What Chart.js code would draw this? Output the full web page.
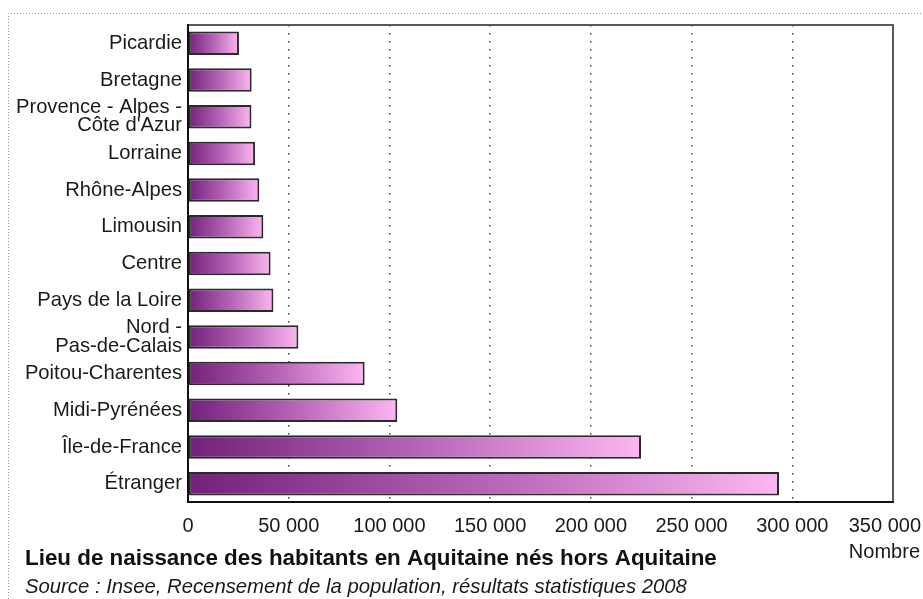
<!DOCTYPE html>
<html>
<head>
<meta charset="utf-8">
<script src="https://cdn.jsdelivr.net/npm/chart.js@4/dist/chart.umd.min.js"></script>
<style>
  html, body { margin: 0; padding: 0; background: #fff; }
  #wrap { width: 923px; height: 599px; }
</style>
</head>
<body>
<div id="wrap"><canvas id="Chart" width="923" height="599"></canvas></div>
<script>
// data
const regions = [
    "Picardie", "Bretagne", ["Provence - Alpes -", "Côte d'Azur"], "Lorraine",
    "Rhône-Alpes", "Limousin", "Centre", "Pays de la Loire", ["Nord -", "Pas-de-Calais"],
    "Poitou-Charentes", "Midi-Pyrénées", "Île-de-France", "Étranger"
];
const nombre = [25300, 31600, 31500, 33300, 35400, 37400, 41000, 42400, 54800, 87700, 103900, 224900, 293400];
const xTicks = ["0", "50 000", "100 000", "150 000", "200 000", "250 000", "300 000", "350 000"];
const titre = "Lieu de naissance des habitants en Aquitaine nés hors Aquitaine";
const source = "Source : Insee, Recensement de la population, résultats statistiques 2008";
const unite = "Nombre";

const FONT = "'Liberation Sans', Arial, sans-serif";

function barGradient(context)
{
    const chart = context.chart;
    const x = chart.scales.x;
    if (!x || context.dataIndex === undefined) return "#b060b0";
    const x0 = x.getPixelForValue(0);
    const x1 = x.getPixelForValue(context.raw);
    if (!isFinite(x0) || !isFinite(x1) || x1 - x0 < 1) return "#b060b0";
    const g = chart.ctx.createLinearGradient(x0, 0, x1, 0);
    g.addColorStop(0, "#72217a");
    g.addColorStop(0.5, "#b563b6");
    g.addColorStop(1, "#fcb6f0");
    return g;
}

function noPad(axis)
{
    axis.paddingLeft = 0;
    axis.paddingRight = 0;
    axis.paddingTop = 0;
    axis.paddingBottom = 0;
}

const decor = {
    id: "decor",
    beforeDraw(chart) {
        const ctx = chart.ctx;
        ctx.save();
        ctx.strokeStyle = "#9a9a9a";
        ctx.lineWidth = 1;
        ctx.setLineDash([1, 2]);
        ctx.beginPath();
        ctx.moveTo(8.5, 599);
        ctx.lineTo(8.5, 13.5);
        ctx.lineTo(923, 13.5);
        ctx.stroke();
        ctx.restore();

        // last tick label pushed inside the canvas
        const items = chart.scales.x.getLabelItems(chart.chartArea);
        const last = items[items.length - 1];
        if (last) {
            last.options.textAlign = "right";
            last.options.translation[0] = 921;
        }
    },
    afterDraw(chart) {
        const ctx = chart.ctx;
        const a = chart.chartArea;
        ctx.save();
        ctx.lineWidth = 2;
        ctx.strokeStyle = "#5a5a5a";
        ctx.beginPath();
        ctx.moveTo(a.left, a.top);
        ctx.lineTo(a.right, a.top);
        ctx.lineTo(a.right, a.bottom);
        ctx.stroke();
        ctx.strokeStyle = "#111";
        ctx.beginPath();
        ctx.moveTo(a.left, a.top - 1);
        ctx.lineTo(a.left, a.bottom);
        ctx.lineTo(a.right + 1, a.bottom);
        ctx.stroke();

        ctx.fillStyle = "#111";
        ctx.textBaseline = "alphabetic";
        ctx.textAlign = "left";
        ctx.font = "bold 22.4px " + FONT;
        ctx.fillText(titre, 25, 565);
        ctx.fillStyle = "#1a1a1a";
        ctx.font = "italic 20.3px " + FONT;
        ctx.fillText(source, 25, 593);
        ctx.textAlign = "right";
        ctx.font = "20px " + FONT;
        ctx.fillText(unite, 920, 558);
        ctx.restore();
    }
};

const ctx = document.getElementById("Chart");
const myChart = new Chart(ctx, {
    type: "bar",
    data: {
        labels: regions,
        datasets: [
            {
                label: "Nombre",
                data: nombre,
                backgroundColor: barGradient,
                borderColor: "#2a2a2a",
                borderWidth: 2,
                borderSkipped: false,
                barPercentage: 0.64,
                categoryPercentage: 1
            }
        ]
    },
    options: {
        indexAxis: "y",
        responsive: false,
        animation: false,
        layout: { padding: { top: 25, right: 30, left: 0, bottom: 0 } },
        plugins: {
            legend: { display: false },
            tooltip: { enabled: false }
        },
        scales: {
            x: {
                min: 0,
                max: 350000,
                afterBuildTicks(axis) {
                    axis.ticks = xTicks.map((t, i) => ({ value: i * 50000 }));
                },
                afterFit(axis) { axis.height = 97; noPad(axis); },
                grid: {
                    drawTicks: false,
                    color: (c) => (c.tick && (c.tick.value === 0 || c.tick.value === 350000)) ? "rgba(0,0,0,0)" : "#444",
                    lineWidth: 1.5
                },
                border: { display: false, dash: [1.5, 6.5] },
                ticks: {
                    padding: 12,
                    color: "#1a1a1a",
                    maxRotation: 0,
                    autoSkip: false,
                    font: { family: FONT, size: 20 },
                    callback: (v, i) => xTicks[i]
                }
            },
            y: {
                afterFit(axis) { axis.width = 188; noPad(axis); },
                grid: { display: false, drawTicks: false },
                border: { display: false },
                ticks: {
                    padding: 6,
                    color: "#1a1a1a",
                    autoSkip: false,
                    font: { family: FONT, size: 20.2, lineHeight: 0.9 }
                }
            }
        }
    },
    plugins: [decor]
});
</script>
</body>
</html>
